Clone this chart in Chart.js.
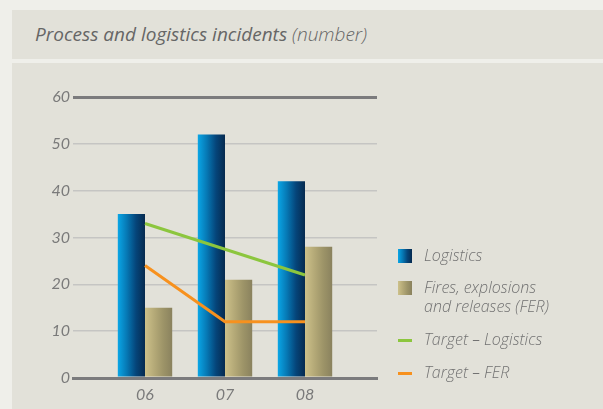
<!DOCTYPE html>
<html>
<head>
<meta charset="utf-8">
<script src="https://cdn.jsdelivr.net/npm/chart.js@4/dist/chart.umd.min.js"></script>
<style>
  html, body { margin: 0; padding: 0; }
  body { width: 603px; height: 409px; background: #efefea; position: relative; overflow: hidden; font-family: "Open Sans", Lato, sans-serif; }
  .band { position: absolute; left: 12px; right: 0; background: #e2e1d9; }
  #titleBand { top: 10px; height: 49px; }
  #chartBand { top: 63px; bottom: 0; }
  #title { position: absolute; left: 35px; top: 22px; font-size: 19px; line-height: 24px; font-style: italic; color: #666666; white-space: nowrap; }
  #title span { font-weight: 300; }
  #wrap { position: absolute; left: 0; top: 0; width: 603px; height: 409px; }
  #legend { position: absolute; left: 398px; top: 246px; font-size: 16px; font-style: italic; color: #727272; font-weight: 300; }
  .item { position: relative; padding-left: 26px; line-height: 19px; white-space: nowrap; }
  .box { position: absolute; left: 0; top: 3px; width: 14px; height: 14px; }
  .ln { position: absolute; left: 0; top: 9px; width: 14px; height: 3px; }
</style>
</head>
<body>
<div class="band" id="titleBand"></div>
<div class="band" id="chartBand"></div>
<div id="title">Process and logistics incidents <span>(number)</span></div>
<div id="wrap"><canvas id="chartIncidents"></canvas></div>
<div id="legend"></div>
<script>
var categories = ['06', '07', '08'];
var logistics = [35, 52, 42];
var fer = [15, 21, 28];
var targetLogistics = [33, 27.5, 22];
var targetFer = [24, 12, 12];
var yTicks = [0, 10, 20, 30, 40, 50, 60];

var legendLabels = ['Logistics', 'Fires, explosions<br>and releases (FER)', 'Target \u2013 Logistics', 'Target \u2013 FER'];

function points(values) {
  return values.map(function (v, i) { return { x: i, y: v }; });
}

var gradients = {
  logistics: ['#0aa6e6', '#0678b4', '#05457a', '#062a4f'],
  fer: ['#cdc18a', '#b5aa78', '#9d9468', '#8a825e']
};

// each bar gets its own left-to-right gradient
var gradientBars = {
  id: 'gradientBars',
  beforeDatasetsDraw: function (chart) {
    var ctx = chart.ctx;
    chart.data.datasets.forEach(function (ds, i) {
      if (!ds.gradientKey) return;
      var stops = gradients[ds.gradientKey];
      chart.getDatasetMeta(i).data.forEach(function (bar) {
        var g = ctx.createLinearGradient(bar.x - bar.width / 2, 0, bar.x + bar.width / 2, 0);
        stops.forEach(function (c, k) { g.addColorStop(k / (stops.length - 1), c); });
        bar.options.backgroundColor = g;
      });
    });
  }
};

function flatColor(key) {
  // scriptable so every bar keeps its own options object
  return function () { return gradients[key][1]; };
}

function renderIncidentsChart() {
  var canvas = document.getElementById('chartIncidents');
  new Chart(canvas, {
    type: 'bar',
    data: {
      datasets: [
        { type: 'line', label: 'Target \u2013 Logistics', data: points(targetLogistics), borderColor: '#8cc63e', borderWidth: 3, pointRadius: 0, tension: 0, order: 0 },
        { type: 'line', label: 'Target \u2013 FER', data: points(targetFer), borderColor: '#f7911e', borderWidth: 3, pointRadius: 0, tension: 0, order: 0 },
        { label: 'Logistics', data: points(logistics), gradientKey: 'logistics', backgroundColor: flatColor('logistics'), categoryPercentage: 0.68, barPercentage: 1, order: 1 },
        { label: 'Fires, explosions and releases (FER)', data: points(fer), gradientKey: 'fer', backgroundColor: flatColor('fer'), categoryPercentage: 0.68, barPercentage: 1, order: 1 }
      ]
    },
    options: {
      responsive: true,
      maintainAspectRatio: false,
      animation: false,
      layout: { padding: { left: 0, right: 226, top: 97, bottom: 0 } },
      plugins: {
        legend: { display: false },
        tooltip: { enabled: false }
      },
      scales: {
        x: {
          type: 'linear',
          min: -0.9,
          max: 2.9,
          offset: false,
          z: 1,
          afterBuildTicks: function (scale) {
            scale.ticks = categories.map(function (c, i) { return { value: i }; });
          },
          afterFit: function (scale) { scale.height = 31; },
          grid: { display: false, drawTicks: false },
          border: { display: true, color: '#7b7b7d', width: 3 },
          ticks: {
            padding: 7,
            color: '#7a7a7a',
            font: { family: 'Lato', size: 16, style: 'italic' },
            callback: function (value) { return categories[value]; }
          }
        },
        y: {
          min: 0,
          max: 60,
          afterBuildTicks: function (scale) {
            scale.ticks = yTicks.map(function (v) { return { value: v }; });
          },
          afterFit: function (scale) { scale.width = 73; },
          border: { display: false },
          grid: {
            drawTicks: false,
            color: function (c) { return (c.tick.value === 0 || c.tick.value === 60) ? '#7b7b7d' : '#c5c5c3'; },
            lineWidth: function (c) { return (c.tick.value === 0 || c.tick.value === 60) ? 3 : 1.5; }
          },
          ticks: {
            padding: 3,
            color: '#7a7a7a',
            font: { family: 'Lato', size: 16, style: 'italic' }
          }
        }
      }
    },
    plugins: [gradientBars]
  });
}

function renderLegend() {
  var legend = document.getElementById('legend');
  var marks = [
    '<div class="box" style="background:linear-gradient(to right,' + gradients.logistics.join(',') + ')"></div>',
    '<div class="box" style="background:linear-gradient(to right,' + gradients.fer.join(',') + ')"></div>',
    '<div class="ln" style="background:#8cc63e"></div>',
    '<div class="ln" style="background:#f7911e"></div>'
  ];
  var gaps = [0, 13, 14, 14];
  legendLabels.forEach(function (label, i) {
    var item = document.createElement('div');
    item.className = 'item';
    item.style.marginTop = gaps[i] + 'px';
    item.innerHTML = marks[i] + label;
    legend.appendChild(item);
  });
}

renderIncidentsChart();
renderLegend();
</script>
</body>
</html>
